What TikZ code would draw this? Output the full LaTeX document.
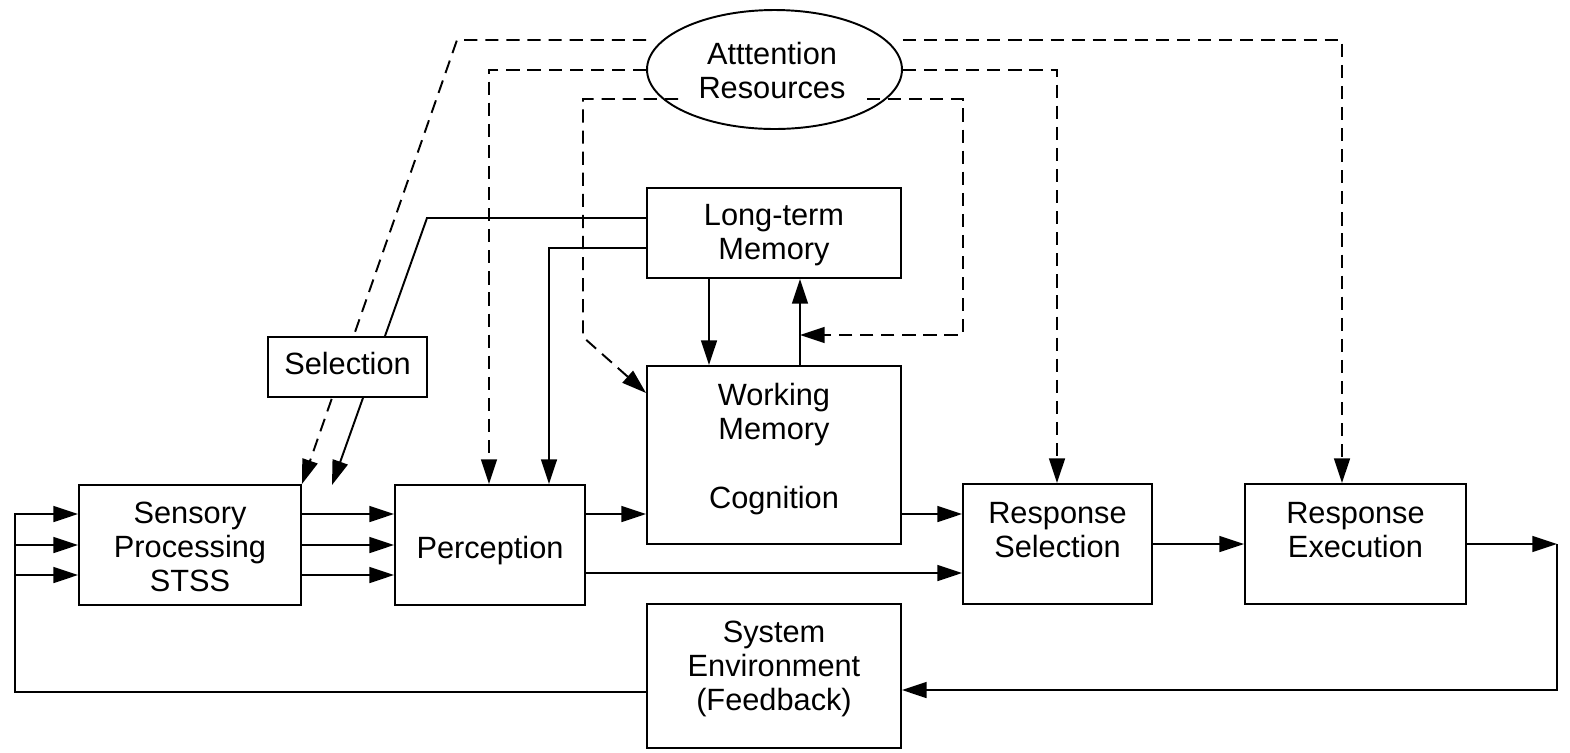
\documentclass[tikz,border=0pt]{standalone}
\usepackage{fontspec}
\setmainfont{Liberation Sans}
\usetikzlibrary{arrows.meta,shapes.geometric}
\begin{document}
\begin{tikzpicture}[x=0.02cm,y=-0.02cm,
  line width=1.1pt,
  box/.style={draw,fill=white,inner sep=0pt},
  txt/.style={inner sep=0pt,align=center,font=\fontsize{17.5pt}{19.5pt}\selectfont},
  arr/.style={-{Triangle[length=14pt,width=9pt]}},
  dsh/.style={dash pattern=on 7.5pt off 4.5pt}]
\useasboundingbox (0,0) rectangle (1570,752);

% boxes
\node[box,minimum width=4.44cm,minimum height=2.4cm] (sens) at (190,545) {};
\node[txt,anchor=north] (sensT) at (190,501) {Sensory\\Processing\\STSS};
\node[box,minimum width=3.8cm,minimum height=2.4cm] (perc) at (490,545) {};
\node[txt,anchor=base] (percT) at (490,558) {Perception};
\node[box,minimum width=5.08cm,minimum height=3.56cm] (wm) at (774,455) {};
\node[txt,anchor=north] (wmT) at (774,382) {Working\\Memory\\[19.5pt]Cognition};
\node[box,minimum width=5.08cm,minimum height=1.8cm] (ltm) at (774,233) {};
\node[txt,anchor=north] (ltmT) at (774,203) {Long-term\\Memory};
\node[box,minimum width=3.78cm,minimum height=2.4cm] (rs) at (1057.5,544) {};
\node[txt,anchor=north] (rsT) at (1057.5,501) {Response\\Selection};
\node[box,minimum width=4.42cm,minimum height=2.4cm] (re) at (1355.5,544) {};
\node[txt,anchor=north] (reT) at (1355.5,501) {Response\\Execution};
\node[box,minimum width=5.08cm,minimum height=2.88cm] (sys) at (774,676) {};
\node[txt,anchor=north] (sysT) at (774,620) {System\\Environment\\(Feedback)};
\node[draw,fill=white,ellipse,inner sep=0pt,minimum width=5.1cm,minimum height=2.38cm] (att) at (774.5,69.5) {};
\node[txt,anchor=north] (attT) at (772,41) {Atttention\\Resources};

% named free ends
\coordinate (l3a) at (678,99);
\coordinate (l3b) at (867,99);
\coordinate (upmid) at (800,335);
\coordinate (seltip) at (332,485);
\coordinate (fbr) at (1557,544);

% dashed attention lines
\draw[dsh,arr] (att.west |- 0,40) -- (457,40) -- (sens.north east);
\draw[dsh,arr] (att.west |- 0,70) -- (489,70) -- (perc.north -| 489,0);
\draw[dsh,arr] (l3a) -- (583,99) -- (583,337) -- (wm.west |- 0,393);
\draw[dsh,arr] (l3b) -- (963,99) -- (963,335) -- (upmid);
\draw[dsh,arr] (att.east |- 0,70) -- (1057,70) -- (rs.north -| 1057,0);
\draw[dsh,arr] (att.east |- 0,40) -- (1342,40) -- (re.north -| 1342,0);

% long-term memory links
\draw[arr] (ltm.west |- 0,218) -- (427,218) -- (seltip);
\draw[arr] (ltm.west |- 0,248) -- (549,248) -- (perc.north -| 549,0);
\draw[arr] (ltm.south -| 709,0) -- (wm.north -| 709,0);
\draw[arr] (wm.north -| 800,0) -- (ltm.south -| 800,0);

% main flow
\draw[arr] (sens.east |- 0,514) -- (perc.west |- 0,514);
\draw[arr] (sens.east |- 0,545) -- (perc.west |- 0,545);
\draw[arr] (sens.east |- 0,575) -- (perc.west |- 0,575);
\draw[arr] (perc.east |- 0,514) -- (wm.west |- 0,514);
\draw[arr] (perc.east |- 0,573) -- (rs.west |- 0,573);
\draw[arr] (wm.east |- 0,514) -- (rs.west |- 0,514);
\draw[arr] (rs.east) -- (re.west);
\draw[arr] (re.east) -- (fbr);
\draw[arr] (fbr) -- (fbr |- 0,690) -- (sys.east |- 0,690);
\draw[arr] (sys.west |- 0,692) -- (15,692) -- (15,514) -- (sens.west |- 0,514);
\draw[arr] (15,545) -- (sens.west |- 0,545);
\draw[arr] (15,575) -- (sens.west |- 0,575);

% selection box on top
\node[box,minimum width=3.18cm,minimum height=1.2cm] (sel) at (347.5,367) {};
\node[txt,anchor=base] (selT) at (347.5,374) {Selection};
\end{tikzpicture}
\end{document}
